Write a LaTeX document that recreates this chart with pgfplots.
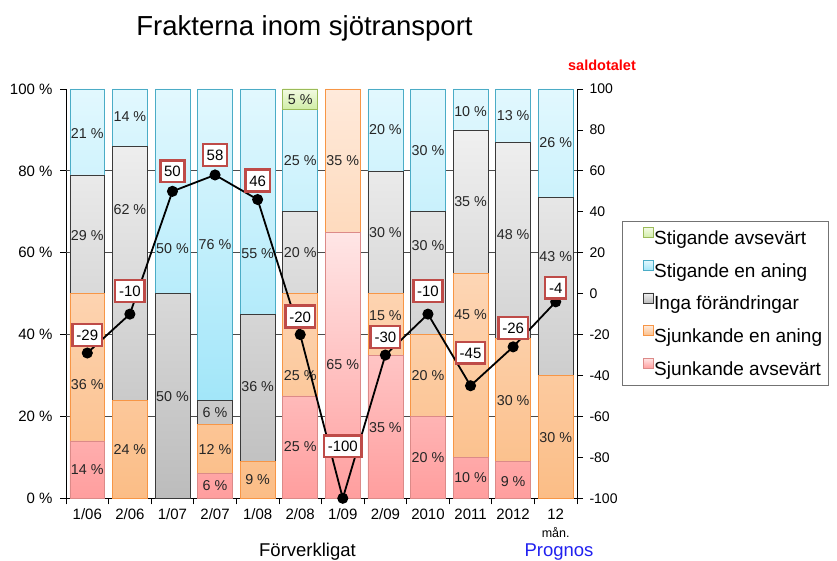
\documentclass[border=0pt]{standalone}
\usepackage{pgfplots}
\usepackage{pgfplotstable}
\pgfplotsset{compat=1.18}
\usepackage{fontspec}
\setmainfont{Liberation Sans}

\definecolor{rTop}{HTML}{FFE6E6}
\definecolor{rBot}{HTML}{FF9E9E}
\definecolor{rDraw}{HTML}{DC8A88}
\definecolor{oTop}{HTML}{FFEADB}
\definecolor{oBot}{HTML}{FBBD86}
\definecolor{oDraw}{HTML}{F79646}
\definecolor{kTop}{HTML}{F0F0F0}
\definecolor{kBot}{HTML}{BCBCBC}
\definecolor{kDraw}{HTML}{3A3A3A}
\definecolor{bTop}{HTML}{E2F8FE}
\definecolor{bBot}{HTML}{A2E6F9}
\definecolor{bDraw}{HTML}{4BACC6}
\definecolor{gTop}{HTML}{F2FAE2}
\definecolor{gBot}{HTML}{D0EDA6}
\definecolor{gDraw}{HTML}{9BBB59}
\definecolor{boxred}{HTML}{BE4B48}
\definecolor{labtext}{HTML}{262626}
\definecolor{prognos}{HTML}{2020F0}

\pgfplotstableread{
x r o k b
0 14 36 29 21
1 0 24 62 14
2 0 0 50 50
3 6 12 6 76
4 0 9 36 55
5 25 25 20 25
6 65 35 0 0
7 35 15 30 20
8 20 20 30 30
9 10 45 35 10
10 9 30 48 13
11 0 30 43.6 26.4
}\bars

\pgfplotstableread{
x y lab
0 7.1 14
0 27.7 36
0 64.2 29
0 89.2 21
1 11.8 24
1 70.5 62
1 93.3 14
2 24.8 50
2 61.1 50
3 3.0 6
3 12.0 12
3 20.9 6
3 61.9 76
4 4.6 9
4 27.3 36
4 59.9 55
5 12.6 25
5 30.1 25
5 60.0 20
5 82.5 25
5 97.4 5
6 32.6 65
6 82.5 35
7 17.3 35
7 44.6 15
7 64.9 30
7 90.0 20
8 9.9 20
8 29.9 20
8 61.7 30
8 84.9 30
9 5.0 10
9 44.8 45
9 72.4 35
9 94.5 10
10 4.2 9
10 23.8 30
10 64.5 48
10 93.5 13
11 14.8 30
11 59.1 43
11 86.8 26
}\barlabels

\pgfplotstableread{
x y off lab
0 -29 18 -29
1 -10 23 -10
2 50 20 50
3 58 20 58
4 46 19 46
5 -20 18 -20
6 -100 52 -100
7 -30 18 -30
8 -10 23 -10
9 -45 33 -45
10 -26 19 -26
11 -4 14 -4
}\saldo

\pgfplotsset{
  sq/.style={legend image code/.code={%
    \path (-15bp,0bp);
    \draw[##1, line width=0.8bp] (0bp,2bp) rectangle (10bp,12bp);}},
  common/.style={
    at={(66bp,62.7bp)}, anchor=south west,
    scale only axis, width=511bp, height=409.3bp,
    xmin=-0.5, xmax=11.5,
    /pgf/number format/assume math mode=true,
    tick label style={font=\fontsize{15bp}{17bp}\selectfont, text=black},
  },
}

\begin{document}
\begin{tikzpicture}
\path[use as bounding box] (0,0) rectangle (837bp,561bp);

% main bars
\begin{axis}[common,
  ymin=0, ymax=100,
  ybar stacked, bar width=0.82,
  axis x line*=bottom, axis y line*=left,
  axis line style={black, line width=0.8bp, -},
  tick align=outside,
  ytick={0,20,...,100},
  yticklabels={0 \%,20 \%,40 \%,60 \%,80 \%,100 \%},
  yticklabel style={xshift=-4bp},
  extra y ticks={20,40,60,80}, extra y tick labels={},
  extra y tick style={grid=major, major tick length=0pt},
  grid style={black!70, line width=0.8bp},
  xtick={0,...,11},
  xticklabels={1/06,2/06,1/07,2/07,1/08,2/08,1/09,2/09,2010,2011,2012,{12\\[1bp]{\fontsize{12.5bp}{13bp}\selectfont mån.}}},
  xticklabel style={align=center, yshift=-1bp},
  major x tick style={draw=none},
  minor xtick={-0.5,0.5,...,11.5},
  tick style={black, line width=0.8bp},
  major tick length=6bp, minor tick length=6bp,
  reverse legend,
  legend style={at={(1.088,0.6775)}, anchor=north west,
    draw=black!55, line width=0.8bp, fill=white,
    font=\fontsize{19bp}{22bp}\selectfont,
    inner xsep=6bp, inner ysep=6bp,
    nodes={inner sep=0pt, text height=14bp, text depth=4bp},
    row sep=11.2bp,
    /tikz/every even column/.append style={column sep=5bp},
  },
  legend cell align=left,
]
\addplot[sq, top color=rTop, bottom color=rBot, draw=rDraw, line width=0.6bp] table[x=x, y=r] {\bars};
\addlegendentry{Sjunkande avsevärt}
\addplot[sq, top color=oTop, bottom color=oBot, draw=oDraw, line width=0.6bp] table[x=x, y=o] {\bars};
\addlegendentry{Sjunkande en aning}
\addplot[sq, top color=kTop, bottom color=kBot, draw=kDraw, line width=0.6bp] table[x=x, y=k] {\bars};
\addlegendentry{Inga förändringar}
\addplot[sq, top color=bTop, bottom color=bBot, draw=bDraw, line width=0.6bp] table[x=x, y=b] {\bars};
\addlegendentry{Stigande en aning}
\addlegendimage{sq, top color=gTop, bottom color=gBot, draw=gDraw}
\addlegendentry{Stigande avsevärt}
\end{axis}

% the single green segment (95-100 on the left scale)
\begin{axis}[common, hide axis, ymin=-95, ymax=5, ybar, bar width=0.82]
\addplot[top color=gTop, bottom color=gBot, draw=gDraw, line width=0.6bp, bar shift=0pt] coordinates {(5,5)};
\end{axis}

% labels inside the bars
\begin{axis}[common, hide axis, ymin=0, ymax=100]
\addplot[draw=none, mark=none, point meta=explicit symbolic,
  nodes near coords={\pgfplotspointmeta\ \%},
  nodes near coords style={anchor=center, font=\fontsize{14.3bp}{16bp}\selectfont, text=labtext, inner sep=0pt}]
  table[x=x, y=y, meta=lab] {\barlabels};
\end{axis}

% saldotalet line on right axis
\begin{axis}[common, clip=false,
  ymin=-100, ymax=100,
  axis x line=none, axis y line*=right,
  axis line style={black, line width=0.8bp, -},
  tick align=outside, major tick length=6bp,
  tick style={black, line width=0.8bp},
  ytick={-100,-80,...,100},
  yticklabels={-100,-80,-60,-40,-20,0,20,40,60,80,100},
  yticklabel style={xshift=3bp, font=\fontsize{14bp}{16bp}\selectfont},
]
\addplot[black, line width=1.8bp, mark=*, mark size=4.6bp, mark options={fill=black, solid},
  point meta=explicit symbolic,
  visualization depends on={\thisrow{off} \as \off},
  nodes near coords,
  nodes near coords style={anchor=center, yshift=\off*1bp, draw=boxred, line width=2.5bp, fill=white,
    text=black, font=\fontsize{15bp}{17bp}\selectfont, inner xsep=3.8bp, inner ysep=5.4bp,
    text height=11bp, text depth=0bp}]
  table[x=x, y=y, meta=lab] {\saldo};
\end{axis}

\node[anchor=base, font=\fontsize{27.5bp}{30bp}\selectfont] at (304.5bp,525bp) {Frakterna inom sjötransport};
\node[anchor=center, font=\bfseries\fontsize{14.5bp}{16bp}\selectfont, text=red] at (602bp,496bp) {saldotalet};
\node[anchor=base, font=\fontsize{18.5bp}{20bp}\selectfont] at (307.5bp,5bp) {Förverkligat};
\node[anchor=base, font=\fontsize{18.5bp}{20bp}\selectfont, text=prognos] at (559bp,5bp) {Prognos};
\end{tikzpicture}
\end{document}
